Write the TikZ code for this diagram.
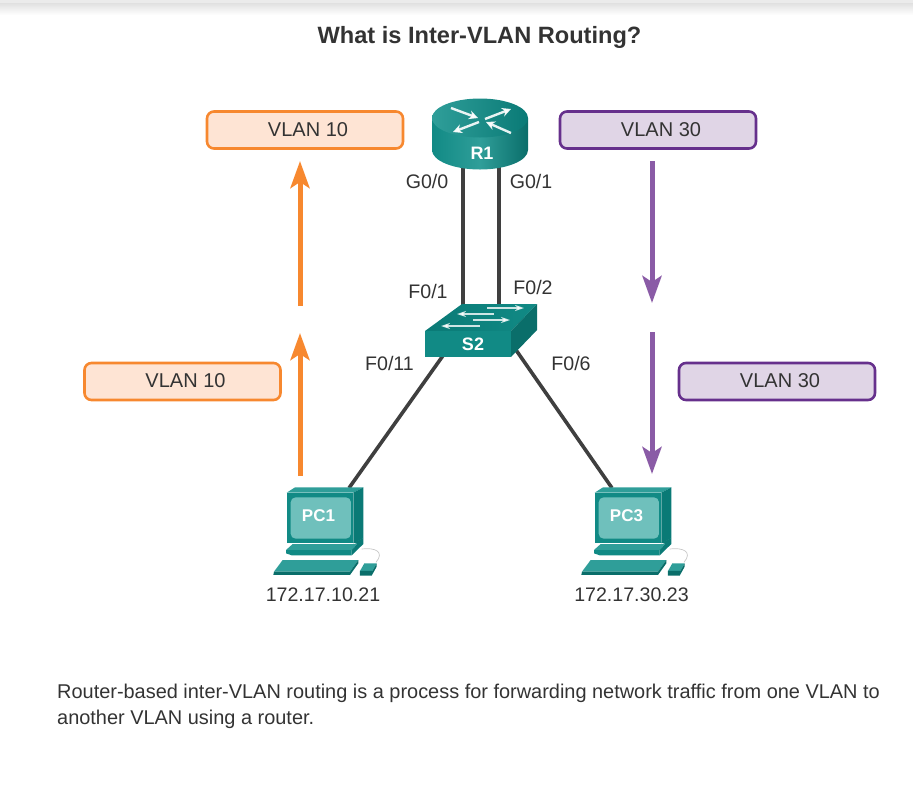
\documentclass[tikz,border=0pt]{standalone}
\usepackage{fontspec}
\setmainfont{Liberation Sans}
\usetikzlibrary{arrows.meta,calc}
\definecolor{txt}{HTML}{333333}
\definecolor{orgline}{HTML}{F7882F}
\definecolor{orgfill}{HTML}{FEE4D4}
\definecolor{purline}{HTML}{66308C}
\definecolor{purfill}{HTML}{E0D5E6}
\definecolor{purarrow}{HTML}{8A5BA6}
\definecolor{tealD}{HTML}{0A6E6A}
\definecolor{tealS}{HTML}{0A7A76}
\definecolor{tealM}{HTML}{118A85}
\definecolor{tealL}{HTML}{2F9E99}
\definecolor{tealP}{HTML}{6FC0BC}
\definecolor{wire}{HTML}{3F3F3F}
\tikzset{
  vlanbase/.style={rounded corners=7pt,line width=2.6pt,minimum width=196pt,minimum height=37pt,inner sep=0pt,font=\fontsize{20}{24}\selectfont,text=txt},
  vlanorg/.style={vlanbase,draw=orgline,fill=orgfill},
  vlanpur/.style={vlanbase,draw=purline,fill=purfill},
  lbl/.style={font=\fontsize{19.6}{24}\selectfont,text=txt,inner sep=0pt},
  devlbl/.style={font=\bfseries\fontsize{18}{20}\selectfont,text=white,inner sep=0pt},
  link/.style={draw=wire,line width=3.6pt},
  flowo/.style={draw=orgline,line width=5pt,-{Stealth[length=27pt,width=19pt,inset=6pt]}},
  flowp/.style={draw=purarrow,line width=5pt,-{Stealth[length=27pt,width=19pt,inset=6pt]}},
  rarrow/.style={white,line width=2.4pt,opacity=.9,-{Stealth[length=9pt,width=9pt]}},
  sarrow/.style={white,line width=2pt,opacity=.8,-{Stealth[length=9pt,width=6pt]}},
  pcunit/.pic={
    \begin{scope}[x=0.3333pt,y=-0.3333pt]
      \draw[line width=0.7pt,draw=black!22] (275,237) .. controls (315,232) and (345,245) .. (318,277);
      \fill[tealL] (50,68) -- (75,52) -- (280,52) -- (250,68) -- cycle;
      \fill[tealS] (250,68) -- (280,52) -- (280,205) -- (250,220) -- cycle;
      \fill[tealM] (50,68) rectangle (250,218);
      \fill[tealP,rounded corners=5pt] (62,82) rectangle (243,206);
      \fill[tealL] (68,222) -- (262,222) -- (245,240) -- (48,240) -- cycle;
      \fill[tealM] (48,240) -- (245,240) -- (245,256) -- (65,256) -- (48,250) -- cycle;
      \fill[tealS] (245,240) -- (262,222) -- (250,218) -- (280,205) -- (280,222) -- (245,256) -- cycle;
      \fill[tealL] (38,270) -- (265,270) -- (240,305) -- (12,305) -- cycle;
      \fill[tealD] (12,305) -- (240,305) -- (240,315) -- (10,315) -- cycle;
      \fill[tealD] (240,305) -- (265,270) -- (265,280) -- (240,315) -- cycle;
      \fill[tealL] (283,280) -- (320,280) -- (307,303) -- (270,303) -- cycle;
      \fill[tealD] (270,303) -- (307,303) -- (320,280) -- (320,290) -- (305,317) -- (270,317) -- cycle;
    \end{scope}
  }
}
\begin{document}
\begin{tikzpicture}[x=1pt,y=-1pt]
\useasboundingbox (0,0) rectangle (913,796);
% top page shadow
\fill[black!8] (0,0) rectangle (913,3);
\shade[top color=black!12,bottom color=white] (0,3) rectangle (913,15);

\node[font=\bfseries\fontsize{23.6}{28}\selectfont,text=txt,inner sep=0pt] (title) at (479.5,37) {What is Inter-VLAN Routing?};

% port coordinates
\coordinate (r1g0) at (463,165);
\coordinate (r1g1) at (499,165);
\coordinate (s2f1) at (463,312);
\coordinate (s2f2) at (499,312);
\coordinate (s2f11) at (447,350);
\coordinate (s2f6) at (516,350);
\coordinate (pc1port) at (349,488);
\coordinate (pc3port) at (612,488);

\draw[link] (r1g0) -- (s2f1);
\draw[link] (r1g1) -- (s2f2);
\draw[link] (s2f11) -- (pc1port);
\draw[link] (s2f6) -- (pc3port);

% router
\path[left color=tealM,right color=tealD,middle color=tealL]
  (432,118) -- (432,150) arc[start angle=180,end angle=0,x radius=48,y radius=19.5] -- (528,118) -- cycle;
\path[shading angle=100,left color=tealL,right color=tealS]
  (480,118) ellipse[x radius=48,y radius=19.5];
\draw[rarrow] (451,108) -- (478,118);
\draw[rarrow] (485,119) -- (511,109);
\draw[rarrow] (479,122) -- (453,132);
\draw[rarrow] (511,133) -- (486,122);
\node[devlbl] (r1) at (482,153) {R1};

% switch
\path[left color=tealS,right color=tealM] (425,331) -- (462,304) -- (537,304) -- (511,331) -- cycle;
\fill[tealD] (511,331) -- (537,304) -- (537,330) -- (511,357) -- cycle;
\fill[tealM] (425,331) rectangle (511,357);
\draw[sarrow] (487,308) -- (524,308);
\draw[sarrow] (494,314) -- (457,314);
\draw[sarrow] (473,320) -- (510,320);
\draw[sarrow] (480,326) -- (441,326);
\node[devlbl] (s2) at (473,344) {S2};

% PCs
\pic at (270,470) {pcunit};
\pic at (578,470) {pcunit};
\node[devlbl,font=\bfseries\fontsize{17}{20}\selectfont] (pc1) at (318.5,516) {PC1};
\node[devlbl,font=\bfseries\fontsize{17}{20}\selectfont] (pc3) at (626.5,516) {PC3};

% port labels
\node[lbl] (lg0) at (427,181) {G0/0};
\node[lbl] (lg1) at (531,181) {G0/1};
\node[lbl] (lf1) at (428,291) {F0/1};
\node[lbl] (lf2) at (533,287) {F0/2};
\node[lbl] (lf11) at (389.5,363) {F0/11};
\node[lbl] (lf6) at (571,363) {F0/6};
\node[lbl] (ip1) at (323,595) {172.17.10.21};
\node[lbl] (ip3) at (631.5,595) {172.17.30.23};

% VLAN labels
\node[vlanorg] (v10a) at (305,130) {\hspace*{6pt}\raisebox{1pt}{VLAN 10}};
\node[vlanorg] (v10b) at (182.5,381.5) {\hspace*{6pt}\raisebox{2pt}{VLAN 10}};
\node[vlanpur] (v30a) at (658,130) {\hspace*{6pt}\raisebox{1pt}{VLAN 30}};
\node[vlanpur] (v30b) at (777,381.5) {\hspace*{6pt}\raisebox{2pt}{VLAN 30}};

% traffic arrows
\coordinate (o1s) at (300,476); \coordinate (o1e) at (300,333);
\coordinate (o2s) at (300,306); \coordinate (o2e) at (300,161);
\coordinate (p1s) at (652,161); \coordinate (p1e) at (652,303);
\coordinate (p2s) at (652,332); \coordinate (p2e) at (652,474);
\draw[flowo] (o1s) -- (o1e);
\draw[flowo] (o2s) -- (o2e);
\draw[flowp] (p1s) -- (p1e);
\draw[flowp] (p2s) -- (p2e);

% caption
\node[anchor=north west,align=left,inner sep=0pt,font=\fontsize{19.93}{26}\selectfont,text=txt] (cap) at (57,684)
  {Router-based inter-VLAN routing is a process for forwarding network traffic from one VLAN to\\another VLAN using a router.};
\end{tikzpicture}
\end{document}
